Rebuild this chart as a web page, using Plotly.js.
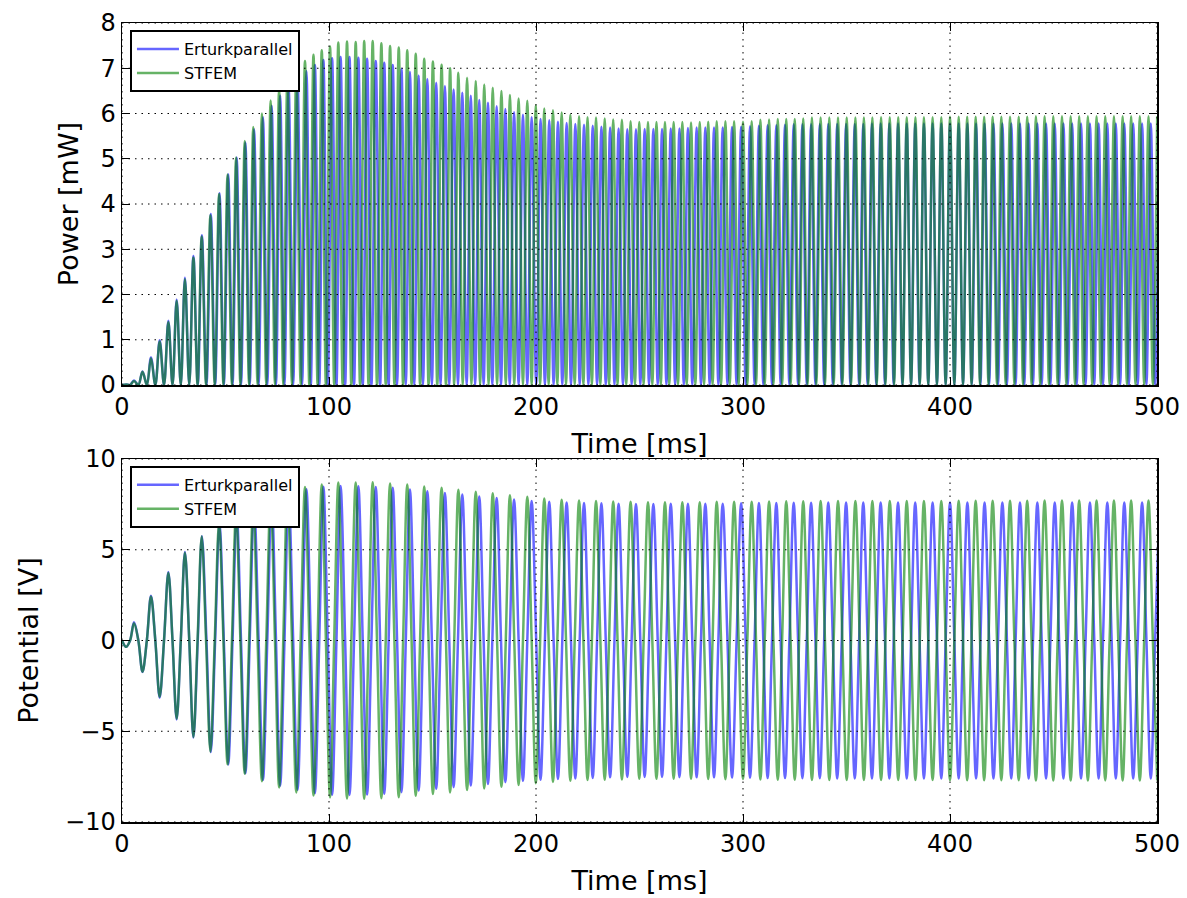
<!DOCTYPE html>
<html>
<head>
<meta charset="utf-8">
<script src="https://cdn.plot.ly/plotly-3.0.1.min.js"></script>
<style>html,body{margin:0;padding:0;background:#fff;}#chart{width:1187px;height:898px;}</style>
</head>
<body>
<div id="chart"></div>
<script>
// ---------------- DATA ----------------
// Time ticks and y ticks
const xTicks = [0, 100, 200, 300, 400, 500];
const powerTicks = [0, 1, 2, 3, 4, 5, 6, 7, 8];
const potentialTicks = [-10, -5, 0, 5, 10];

// STFEM (green): times [ms] of successive extrema of the potential (= power peaks)
const tExtSTFEM = [
2.0, 5.8, 9.9, 14.0, 18.2, 22.4, 26.4, 30.4, 34.5, 38.5,
42.7, 46.9, 51.0, 55.1, 59.3, 63.4, 67.6, 71.8, 75.9, 79.9,
84.2, 88.4, 92.5, 96.5, 100.5, 104.5, 108.7, 112.9, 117.0, 121.1,
125.3, 129.5, 133.7, 137.8, 141.9, 146.0, 150.2, 154.4, 158.5, 162.5,
166.7, 170.9, 175.0, 179.1, 183.3, 187.4, 191.6, 195.8, 199.9, 204.0,
208.2, 212.4, 216.6, 220.8, 224.9, 229.0, 233.2, 237.3, 241.5, 245.7,
249.9, 254.1, 258.2, 262.3, 266.5, 270.7, 274.9, 279.1, 283.2, 287.3,
291.5, 295.7, 300.0, 304.2, 308.4, 312.6, 316.8, 320.9, 325.0, 329.1,
333.3, 337.5, 341.7, 345.9, 350.1, 354.3, 358.4, 362.5, 366.7, 370.9,
375.0, 379.1, 383.3, 387.4, 391.6, 395.8, 400.0, 404.2, 408.3, 412.4,
416.5, 420.6, 424.8, 429.0, 433.2, 437.3, 441.5, 445.7, 449.9, 454.1,
458.3, 462.4, 466.6, 470.8, 475.0, 479.2, 483.4, 487.5, 491.7, 495.9,
500.1];
// STFEM: zero crossings of the potential (each one precedes the extremum of same index)
const tZeroSTFEM = [
0, 3.9, 7.9, 12.0, 16.1, 20.3, 24.4, 28.4, 32.5, 36.5,
40.6, 44.8, 49.0, 53.1, 57.2, 61.4, 65.5, 69.7, 73.9, 77.9,
82.1, 86.3, 90.5, 94.5, 98.5, 102.5, 106.6, 110.8, 115.0, 119.1,
123.2, 127.4, 131.6, 135.8, 139.9, 144.0, 148.1, 152.3, 156.5, 160.5,
164.6, 168.8, 173.0, 177.1, 181.2, 185.4, 189.5, 193.7, 197.9, 202.0,
206.1, 210.3, 214.5, 218.7, 222.9, 227.0, 231.1, 235.3, 239.4, 243.6,
247.8, 252.0, 256.2, 260.3, 264.4, 268.6, 272.8, 277.0, 281.2, 285.3,
289.4, 293.6, 297.9, 302.1, 306.3, 310.5, 314.7, 318.9, 323.0, 327.1,
331.2, 335.4, 339.6, 343.8, 348.0, 352.2, 356.4, 360.5, 364.6, 368.8,
373.0, 377.1, 381.2, 385.4, 389.5, 393.7, 397.9, 402.1, 406.3, 410.4,
414.5, 418.6, 422.7, 426.9, 431.1, 435.3, 439.4, 443.6, 447.8, 452.0,
456.2, 460.4, 464.5, 468.7, 472.9, 477.1, 481.3, 485.5, 489.6, 493.8,
498.0];
// STFEM: potential at each extremum [V]
const vExtSTFEM = [
-0.35, 0.95, -1.72, 2.43, -3.10, 3.73, -4.31, 4.84, -5.31, 5.73,
-6.12, 6.50, -6.82, 7.09, -7.34, 7.55, -7.75, 7.93, -8.10, 8.25,
-8.37, 8.46, -8.54, 8.60, -8.65, 8.70, -8.71, 8.71, -8.72, 8.72,
-8.69, 8.65, -8.64, 8.60, -8.56, 8.49, -8.46, 8.41, -8.37, 8.31,
-8.24, 8.20, -8.15, 8.11, -8.06, 8.01, -7.96, 7.92, -7.86, 7.82,
-7.79, 7.76, -7.73, 7.71, -7.69, 7.69, -7.67, 7.66, -7.66, 7.64,
-7.62, 7.62, -7.62, 7.62, -7.62, 7.62, -7.62, 7.62, -7.63, 7.64,
-7.64, 7.64, -7.63, 7.64, -7.66, 7.66, -7.67, 7.67, -7.67, 7.67,
-7.69, 7.69, -7.69, 7.69, -7.69, 7.69, -7.69, 7.69, -7.69, 7.69,
-7.69, 7.69, -7.69, 7.69, -7.69, 7.69, -7.70, 7.70, -7.70, 7.70,
-7.70, 7.70, -7.70, 7.70, -7.70, 7.70, -7.71, 7.71, -7.71, 7.71,
-7.71, 7.71, -7.71, 7.71, -7.71, 7.71, -7.71, 7.71, -7.71, 7.71,
-7.71];
// STFEM: power at each peak [mW]
const pExtSTFEM = [
0.012, 0.09, 0.295, 0.59, 0.96, 1.39, 1.86, 2.34, 2.82, 3.28,
3.75, 4.22, 4.65, 5.03, 5.39, 5.70, 6.00, 6.29, 6.56, 6.80,
7.00, 7.16, 7.30, 7.40, 7.48, 7.57, 7.59, 7.58, 7.60, 7.60,
7.55, 7.49, 7.46, 7.40, 7.32, 7.21, 7.15, 7.08, 7.00, 6.90,
6.79, 6.72, 6.64, 6.57, 6.50, 6.41, 6.33, 6.28, 6.18, 6.11,
6.07, 6.02, 5.97, 5.94, 5.92, 5.91, 5.89, 5.87, 5.86, 5.83,
5.81, 5.81, 5.81, 5.81, 5.81, 5.81, 5.80, 5.81, 5.82, 5.83,
5.83, 5.83, 5.82, 5.83, 5.86, 5.87, 5.88, 5.88, 5.88, 5.89,
5.91, 5.91, 5.91, 5.91, 5.91, 5.91, 5.91, 5.91, 5.92, 5.92,
5.92, 5.92, 5.92, 5.92, 5.92, 5.92, 5.93, 5.93, 5.93, 5.93,
5.93, 5.93, 5.93, 5.93, 5.93, 5.93, 5.94, 5.94, 5.94, 5.94,
5.94, 5.94, 5.94, 5.94, 5.94, 5.94, 5.94, 5.94, 5.94, 5.94,
5.94];

// Erturkparallel (blue)
const tExtErturk = [
2.0, 5.8, 9.9, 14.0, 18.2, 22.4, 26.4, 30.4, 34.5, 38.6,
42.9, 47.1, 51.3, 55.4, 59.6, 63.8, 68.1, 72.3, 76.4, 80.5,
84.8, 89.1, 93.2, 97.3, 101.5, 105.6, 109.9, 114.2, 118.4, 122.6,
126.7, 130.8, 135.0, 139.1, 143.3, 147.5, 151.8, 156.0, 160.2, 164.4,
168.5, 172.6, 176.8, 181.0, 185.2, 189.4, 193.7, 197.9, 202.2, 206.4,
210.6, 214.8, 219.0, 223.2, 227.4, 231.6, 235.8, 239.9, 244.1, 248.3,
252.5, 256.7, 260.9, 265.1, 269.3, 273.4, 277.6, 281.8, 286.0, 290.2,
294.7, 299.1, 303.4, 307.7, 311.9, 316.1, 320.3, 324.5, 328.7, 332.9,
337.1, 341.2, 345.5, 349.8, 354.0, 358.1, 362.3, 366.5, 370.7, 374.9,
379.1, 383.2, 387.4, 391.6, 395.8, 400.0, 404.2, 408.4, 412.6, 416.7,
421.0, 425.3, 429.6, 433.8, 438.0, 442.2, 446.4, 450.6, 454.8, 459.0,
463.3, 467.6, 471.8, 476.0, 480.1, 484.2, 488.5, 492.8, 497.0, 501.2];
const tZeroErturk = [
0, 3.9, 7.9, 12.0, 16.1, 20.3, 24.4, 28.4, 32.5, 36.6,
40.8, 45.0, 49.2, 53.4, 57.5, 61.7, 66.0, 70.2, 74.4, 78.5,
82.7, 87.0, 91.2, 95.3, 99.4, 103.6, 107.8, 112.1, 116.3, 120.5,
124.7, 128.8, 132.9, 137.1, 141.2, 145.4, 149.7, 153.9, 158.1, 162.3,
166.5, 170.6, 174.7, 178.9, 183.1, 187.3, 191.6, 195.8, 200.1, 204.3,
208.5, 212.7, 216.9, 221.1, 225.3, 229.5, 233.7, 237.9, 242.0, 246.2,
250.4, 254.6, 258.8, 263.0, 267.2, 271.4, 275.5, 279.7, 283.9, 288.1,
292.5, 296.9, 301.3, 305.6, 309.8, 314.0, 318.2, 322.4, 326.6, 330.8,
335.0, 339.2, 343.4, 347.7, 351.9, 356.1, 360.2, 364.4, 368.6, 372.8,
377.0, 381.2, 385.3, 389.5, 393.7, 397.9, 402.1, 406.3, 410.5, 414.7,
418.9, 423.2, 427.5, 431.7, 435.9, 440.1, 444.3, 448.5, 452.7, 456.9,
461.2, 465.5, 469.7, 473.9, 478.1, 482.2, 486.4, 490.7, 494.9, 499.1];
const vExtErturk = [
-0.35, 1.00, -1.73, 2.47, -3.15, 3.77, -4.35, 4.87, -5.34, 5.75,
-6.15, 6.51, -6.83, 7.09, -7.32, 7.52, -7.69, 7.85, -8.00, 8.12,
-8.23, 8.33, -8.41, 8.47, -8.50, 8.51, -8.51, 8.50, -8.49, 8.46,
-8.44, 8.41, -8.36, 8.32, -8.27, 8.22, -8.17, 8.13, -8.08, 8.04,
-7.99, 7.94, -7.90, 7.85, -7.81, 7.77, -7.73, 7.69, -7.67, 7.65,
-7.63, 7.61, -7.60, 7.58, -7.57, 7.56, -7.54, 7.53, -7.52, 7.52,
-7.52, 7.52, -7.52, 7.53, -7.53, 7.54, -7.54, 7.54, -7.54, 7.54,
-7.55, 7.56, -7.56, 7.57, -7.58, 7.58, -7.58, 7.59, -7.59, 7.59,
-7.59, 7.60, -7.60, 7.60, -7.60, 7.60, -7.60, 7.60, -7.60, 7.60,
-7.60, 7.60, -7.60, 7.60, -7.60, 7.60, -7.60, 7.60, -7.60, 7.60,
-7.60, 7.60, -7.60, 7.60, -7.60, 7.60, -7.60, 7.60, -7.60, 7.60,
-7.60, 7.60, -7.60, 7.60, -7.60, 7.60, -7.60, 7.60, -7.60, 7.60];
const pExtErturk = [
0.012, 0.10, 0.30, 0.61, 0.99, 1.42, 1.89, 2.37, 2.85, 3.31,
3.78, 4.24, 4.66, 5.03, 5.36, 5.65, 5.92, 6.17, 6.40, 6.60,
6.78, 6.94, 7.07, 7.18, 7.22, 7.25, 7.25, 7.23, 7.21, 7.16,
7.12, 7.07, 6.99, 6.92, 6.84, 6.76, 6.68, 6.61, 6.53, 6.46,
6.39, 6.30, 6.24, 6.16, 6.10, 6.03, 5.97, 5.92, 5.88, 5.85,
5.82, 5.79, 5.77, 5.75, 5.73, 5.71, 5.69, 5.67, 5.65, 5.65,
5.66, 5.66, 5.66, 5.67, 5.67, 5.68, 5.69, 5.69, 5.69, 5.69,
5.70, 5.71, 5.72, 5.73, 5.74, 5.74, 5.75, 5.76, 5.76, 5.76,
5.76, 5.77, 5.77, 5.77, 5.77, 5.77, 5.78, 5.78, 5.78, 5.78,
5.78, 5.78, 5.78, 5.78, 5.78, 5.78, 5.78, 5.78, 5.78, 5.78,
5.78, 5.78, 5.78, 5.78, 5.78, 5.78, 5.78, 5.78, 5.78, 5.78,
5.78, 5.78, 5.78, 5.78, 5.78, 5.78, 5.78, 5.78, 5.78, 5.78];

// ---------------- BUILD TRACES ----------------
function interleave(tZero, tExt, vals) {
  const x = [], y = [];
  for (let i = 0; i < tExt.length; i++) {
    x.push(tZero[i]); y.push(0);
    x.push(tExt[i]); y.push(vals[i]);
  }
  return {x, y};
}
const BLUE = 'rgba(0,0,255,0.6)';
const GREEN = 'rgba(0,128,0,0.6)';
function tr(d, name, color, xa, ya, leg) {
  return {
    type: 'scatter', mode: 'lines', x: d.x, y: d.y, name: name,
    xaxis: xa, yaxis: ya, legend: leg,
    line: {color: color, width: 2.5, shape: 'spline', smoothing: 1, simplify: false},
    hoverinfo: 'skip'
  };
}
const data = [
  tr(interleave(tZeroErturk, tExtErturk, pExtErturk), 'Erturkparallel', BLUE, 'x', 'y', 'legend'),
  tr(interleave(tZeroSTFEM, tExtSTFEM, pExtSTFEM), 'STFEM', GREEN, 'x', 'y', 'legend'),
  tr(interleave(tZeroErturk, tExtErturk, vExtErturk), 'Erturkparallel', BLUE, 'x2', 'y2', 'legend2'),
  tr(interleave(tZeroSTFEM, tExtSTFEM, vExtSTFEM), 'STFEM', GREEN, 'x2', 'y2', 'legend2')
];

// ---------------- LAYOUT ----------------
const FONT = 'DejaVu Sans';
function axis(extra) {
  return Object.assign({
    showline: true, linecolor: 'black', linewidth: 1.5, mirror: 'ticks',
    ticks: 'inside', ticklen: 8, tickwidth: 1, tickcolor: 'black',
    showgrid: false, zeroline: false,
    tickfont: {family: FONT, size: 24, color: 'black'},
    fixedrange: true
  }, extra);
}
const gridShapes = [];
function addGrid(xref, yref, xvals, yvals) {
  xvals.forEach(v => gridShapes.push({type: 'line', layer: 'above', xref: xref, yref: yref + ' domain',
    x0: v, x1: v, y0: 0, y1: 1, line: {color: 'black', width: 1, dash: '1.5px,5px'}}));
  yvals.forEach(v => gridShapes.push({type: 'line', layer: 'above', xref: xref + ' domain', yref: yref,
    x0: 0, x1: 1, y0: v, y1: v, line: {color: 'black', width: 1, dash: '1.5px,5px'}}));
}
addGrid('x', 'y', xTicks, powerTicks);
addGrid('x2', 'y2', xTicks, potentialTicks);

const titleFont = {family: FONT, size: 27, color: 'black'};
const legendBase = {
  xanchor: 'left', yanchor: 'top', bgcolor: 'white', bordercolor: 'black', borderwidth: 2,
  font: {family: FONT, size: 16, color: 'black'}, tracegroupgap: 0, itemwidth: 42
};
const layout = {
  width: 1187, height: 898,
  margin: {l: 122, r: 30, t: 23, b: 76},
  paper_bgcolor: 'white', plot_bgcolor: 'white',
  font: {family: FONT, color: 'black'},
  showlegend: true,
  xaxis: axis({domain: [0, 1], anchor: 'y', range: [0, 500], tickvals: xTicks,
    title: {text: 'Time [ms]', font: titleFont, standoff: 14}}),
  yaxis: axis({domain: [0.5469, 1], anchor: 'x', range: [0, 8], tickvals: powerTicks,
    title: {text: 'Power [mW]', font: titleFont, standoff: 14}}),
  xaxis2: axis({domain: [0, 1], anchor: 'y2', range: [0, 500], tickvals: xTicks,
    title: {text: 'Time [ms]', font: titleFont, standoff: 14}}),
  yaxis2: axis({domain: [0, 0.4543], anchor: 'x2', range: [-10, 10], tickvals: potentialTicks,
    title: {text: 'Potential [V]', font: titleFont, standoff: 18}}),
  legend: Object.assign({x: 0.0077, y: 0.991}, legendBase),
  legend2: Object.assign({x: 0.0077, y: 0.4456}, legendBase),
  shapes: gridShapes
};

Plotly.newPlot('chart', data, layout, {displayModeBar: false, staticPlot: true});
</script>
</body>
</html>
